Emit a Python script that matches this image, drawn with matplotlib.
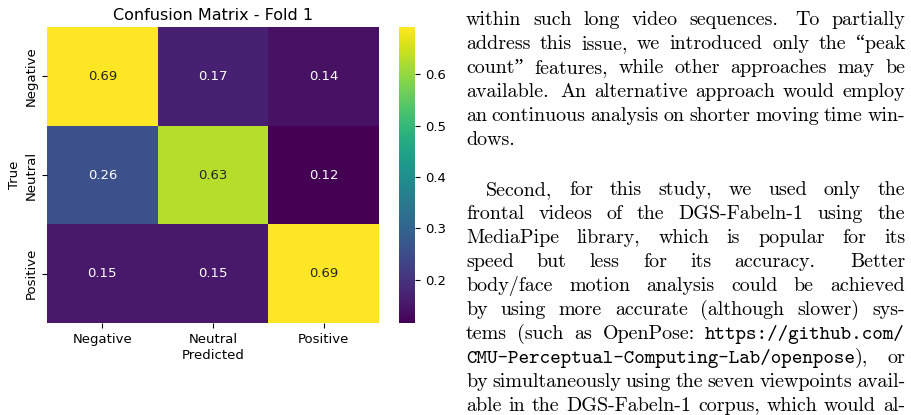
import matplotlib
matplotlib.use("Agg")
import matplotlib.pyplot as plt
from matplotlib.transforms import IdentityTransform
import numpy as np
import seaborn as sns

# ---- data ----
class_labels = ["Negative", "Neutral", "Positive"]
cm_values = np.array([[0.692, 0.167, 0.141],
                      [0.257, 0.628, 0.116],
                      [0.154, 0.154, 0.692]])
title = "Confusion Matrix - Fold 1"

# paper text beside the figure, `...` marks typewriter
para1 = ["within such long video sequences. To partially",
         "address this issue, we introduced only the \u201cpeak",
         "count\u201d features, while other approaches may be",
         "available. An alternative approach would employ",
         "an continuous analysis on shorter moving time win-",
         "dows."]
para2 = ["Second, for this study, we used only the",
         "frontal videos of the DGS-Fabeln-1 using the",
         "MediaPipe library, which is popular for its",
         "speed but less for its accuracy. Better",
         "body/face motion analysis could be achieved",
         "by using more accurate (although slower) sys-",
         "tems (such as OpenPose: `https://github.com/`",
         "`CMU-Perceptual-Computing-Lab/openpose`), or",
         "by simultaneously using the seven viewpoints avail-",
         "able in the DGS-Fabeln-1 corpus, which would al-"]

W, H = 912, 415
fig = plt.figure(figsize=(W / 100, H / 100), dpi=100)

#-----heatmap-------
ax = fig.add_axes([47 / W, 92 / H, 332 / W, 296 / H])
cax = fig.add_axes([399 / W, 92 / H, 16 / W, 296 / H])
sns.heatmap(cm_values, annot=True, fmt=".2f", cmap="viridis",
            xticklabels=class_labels, yticklabels=class_labels,
            ax=ax, cbar_ax=cax, annot_kws={"size": 9.5})
ax.set_title(title, fontsize=11.5, pad=5)
ax.set_xlabel("Predicted", fontsize=9.5, labelpad=2)
ax.set_ylabel("True", fontsize=9.5, labelpad=2)
ax.tick_params(labelsize=9.5)
plt.setp(ax.get_yticklabels(), rotation=90, va="center")
cax.tick_params(labelsize=9.5)

#-----text column-------
RM = ["cmr10", "Liberation Serif", "DejaVu Serif"]
TT = ["cmtt10", "DejaVu Sans Mono"]
TXT_SIZE = 14.4
renderer = fig.canvas.get_renderer()


def parse(line):
    words = []
    tt = False
    for w in line.split(" "):
        segs = []
        parts = w.split("`")
        for i, p in enumerate(parts):
            if i > 0:
                tt = not tt
            if p:
                segs.append((p, TT if tt else RM))
        words.append(segs)
    return words


def draw_line(line, x0, x1, baseline, justify=True):
    y = H - baseline
    items = []
    for segs in parse(line):
        objs = []
        for txt, fam in segs:
            t = fig.text(0, y, txt, family=fam, fontsize=TXT_SIZE,
                         va="baseline", ha="left", transform=IdentityTransform())
            objs.append((t, t.get_window_extent(renderer).width))
        items.append(objs)
    widths = [sum(wd for _, wd in o) for o in items]
    # a bit more room after a full stop, like TeX does
    weights = [1.5 if items[i][-1][0].get_text().endswith(".") else 1.0
               for i in range(len(items) - 1)]
    if justify and len(items) > 1:
        unit = (x1 - x0 - sum(widths)) / sum(weights)
    else:
        unit = TXT_SIZE * 100 / 72 * 0.333
    x = x0
    for i, objs in enumerate(items):
        for t, wd in objs:
            t.set_x(x)
            x += wd
        if i < len(weights):
            x += unit * weights[i]


LEFT, RIGHT = 466, 905
for i, line in enumerate(para1):
    draw_line(line, LEFT, RIGHT, 25 + 24 * i, justify=(i < len(para1) - 1))
for i, line in enumerate(para2):
    x0 = LEFT + 20 if i == 0 else LEFT
    draw_line(line, x0, RIGHT, 195 + 24 * i)

fig.savefig("out.png", dpi=100)
